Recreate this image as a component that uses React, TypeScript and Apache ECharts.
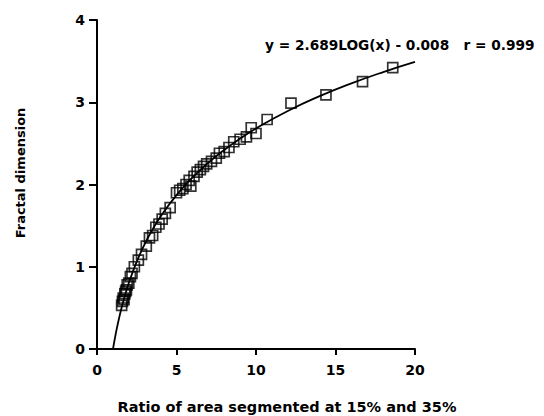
import React, { useEffect, useRef } from "react";
import * as echarts from "echarts";

// Measured points (ratio of area, fractal dimension)
const ratioValues = [
  1.55, 1.6, 1.65, 1.7, 1.75, 1.8, 1.85, 1.9, 2.0, 2.1, 2.2, 2.35, 2.6, 2.8, 3.1, 3.3,
  3.5, 3.7, 3.9, 4.1, 4.3, 4.6, 5.0, 5.2, 5.4, 5.6, 5.8, 5.9, 6.1, 6.3, 6.5, 6.7, 6.9,
  7.2, 7.5, 7.7, 8.0, 8.3, 8.6, 9.0, 9.4, 9.7, 10.0, 10.7, 12.2, 14.4, 16.7, 18.6,
];
const fractalValues = [
  0.53, 0.58, 0.62, 0.6, 0.67, 0.7, 0.72, 0.78, 0.8, 0.88, 0.92, 1.0, 1.08, 1.15, 1.25, 1.35,
  1.38, 1.48, 1.52, 1.58, 1.65, 1.72, 1.9, 1.93, 1.95, 2.0, 2.05, 1.98, 2.1, 2.15, 2.18, 2.22, 2.25,
  2.28, 2.32, 2.38, 2.4, 2.45, 2.52, 2.55, 2.58, 2.69, 2.62, 2.79, 2.99, 3.09, 3.25, 3.42,
];

// Fit stated on the chart: y = 2.689 LOG(x) - 0.008
const fitSlope = 2.689;
const fitIntercept = -0.008;
const fitXs = [1.003, 1.05, 1.1, 1.2, 1.3, 1.4, 1.5, 1.75, 2, 2.5, 3, 3.5, 4, 5, 6, 7, 8, 9, 10, 12, 14, 16, 18, 20];

const xTicks = [0, 5, 10, 15, 20];
const yTicks = [0, 1, 2, 3, 4];
const equationText = "y = 2.689LOG(x) - 0.008   r = 0.999";
const xTitle = "Ratio of area segmented at 15% and 35%";
const yTitle = "Fractal dimension";

const FONT = "'DejaVu Sans', 'Liberation Sans', Arial, sans-serif";

export default function App() {
  const ref = useRef<HTMLDivElement>(null);
  useEffect(() => {
    if (!ref.current) return;
    const chart = echarts.init(ref.current, undefined, { renderer: "svg" });
    const points = ratioValues.map((x, i) => [x, fractalValues[i]]);
    const fit = fitXs.map((x) => [x, fitSlope * Math.log10(x) + fitIntercept]);
    const axisLine = { show: true, lineStyle: { color: "#000", width: 2 } };
    chart.setOption({
      animation: false,
      backgroundColor: "#fff",
      grid: { left: 97, right: 129, top: 20, bottom: 67 },
      xAxis: {
        type: "value",
        min: xTicks[0],
        max: xTicks[xTicks.length - 1],
        interval: 5,
        axisLine: { ...axisLine, onZero: false },
        axisTick: { show: true, length: 6, lineStyle: { color: "#000", width: 2 } },
        axisLabel: { color: "#000", fontFamily: FONT, fontWeight: "bold", fontSize: 14, margin: 14 },
        splitLine: { show: false },
      },
      yAxis: {
        type: "value",
        min: yTicks[0],
        max: yTicks[yTicks.length - 1],
        interval: 1,
        axisLine: { ...axisLine, onZero: false },
        axisTick: { show: true, length: 8, lineStyle: { color: "#000", width: 2 } },
        axisLabel: { color: "#000", fontFamily: FONT, fontWeight: "bold", fontSize: 14, margin: 12 },
        splitLine: { show: false },
      },
      series: [
        {
          type: "line",
          data: fit,
          smooth: true,
          symbol: "none",
          lineStyle: { color: "#000", width: 1.8 },
          z: 2,
        },
        {
          type: "scatter",
          data: points,
          symbol: "rect",
          symbolSize: 10,
          itemStyle: { color: "rgba(0,0,0,0)", borderColor: "#000", borderWidth: 1.7 },
          z: 3,
        },
      ],
      graphic: [
        {
          type: "text",
          x: 265,
          y: 45,
          style: { text: equationText, fill: "#000", font: `bold 13.7px ${FONT}`, verticalAlign: "middle" },
        },
        {
          type: "text",
          x: 287,
          y: 407,
          style: { text: xTitle, fill: "#000", font: `bold 14.5px ${FONT}`, align: "center", verticalAlign: "middle" },
        },
        {
          type: "text",
          x: 20,
          y: 173,
          rotation: Math.PI / 2,
          style: { text: yTitle, fill: "#000", font: `bold 13px ${FONT}`, align: "center", verticalAlign: "middle" },
        },
      ],
    });
    return () => chart.dispose();
  }, []);
  return <div ref={ref} style={{ width: 544, height: 416, position: "absolute", left: 0, top: 0 }} />;
}
